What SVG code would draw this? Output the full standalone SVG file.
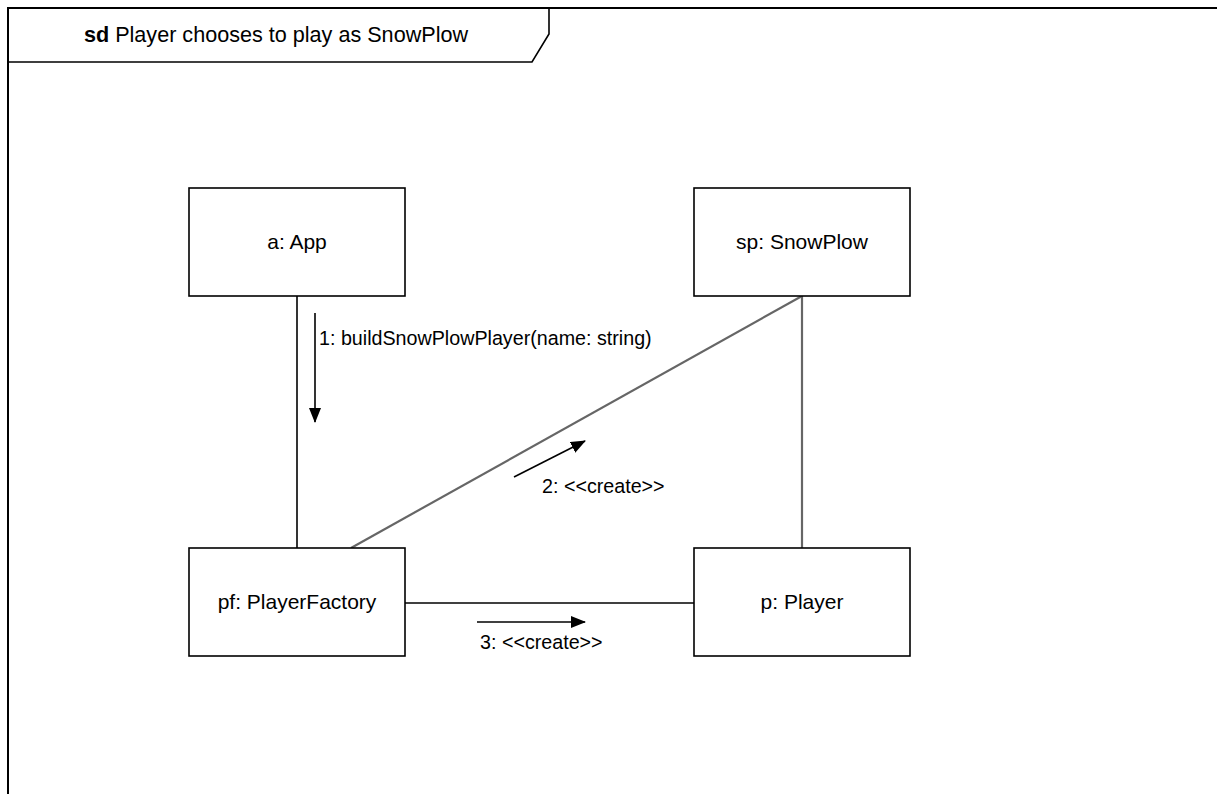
<svg xmlns="http://www.w3.org/2000/svg" width="1217" height="794" viewBox="0 0 1217 794">
<style>
.box{fill:#fff;stroke:#000;stroke-width:1.6}
.lbl{font-family:"Liberation Sans",Arial,sans-serif;font-size:21px;fill:#000}
.msg{font-family:"Liberation Sans",Arial,sans-serif;font-size:19.7px;fill:#000}
.link{stroke:#000;stroke-width:1.6;fill:none}
.glink{stroke:#666;stroke-width:2.2;fill:none}
.arr{stroke:#000;stroke-width:1.6;fill:none;marker-end:url(#ah)}
</style>
<defs>
<marker id="ah" markerWidth="15" markerHeight="12" refX="14" refY="6" orient="auto" markerUnits="userSpaceOnUse">
<path d="M0,0 L15,6 L0,12 Z" fill="#000"/>
</marker>
</defs>
<rect width="1217" height="794" fill="#fff"/>
<g id="frame">
<rect x="8" y="8" width="1220" height="800" fill="none" stroke="#000" stroke-width="2"/>
<path d="M8,62 L532,62 L549,34 L549,8" fill="none" stroke="#000" stroke-width="1.6"/>
<text x="276" y="42" text-anchor="middle" class="lbl" style="font-size:21.6px"><tspan font-weight="bold">sd</tspan> Player chooses to play as SnowPlow</text>
</g>
<g id="connectors">
<line class="link" x1="297" y1="296" x2="297" y2="548"/>
<line class="glink" x1="351" y1="548" x2="802" y2="296"/>
<line class="glink" x1="802" y1="296" x2="802" y2="548"/>
<line class="link" x1="405" y1="603" x2="694" y2="603"/>
<line class="arr" x1="315" y1="313" x2="315" y2="422"/>
<text class="msg" x="319" y="345">1: buildSnowPlowPlayer(name: string)</text>
<line class="arr" x1="514" y1="477" x2="585" y2="441"/>
<text class="msg" x="542" y="493">2: &lt;&lt;create&gt;&gt;</text>
<line class="arr" x1="477" y1="622" x2="585" y2="622"/>
<text class="msg" x="480" y="649">3: &lt;&lt;create&gt;&gt;</text>
</g>
<g id="app">
<rect class="box" x="189" y="188" width="216" height="108"/>
<text class="lbl" x="297" y="249" text-anchor="middle">a: App</text>
</g>
<g id="snowplow">
<rect class="box" x="694" y="188" width="216" height="108"/>
<text class="lbl" x="802" y="249" text-anchor="middle">sp: SnowPlow</text>
</g>
<g id="factory">
<rect class="box" x="189" y="548" width="216" height="108"/>
<text class="lbl" x="297" y="609" text-anchor="middle">pf: PlayerFactory</text>
</g>
<g id="player">
<rect class="box" x="694" y="548" width="216" height="108"/>
<text class="lbl" x="802" y="609" text-anchor="middle">p: Player</text>
</g>
</svg>
